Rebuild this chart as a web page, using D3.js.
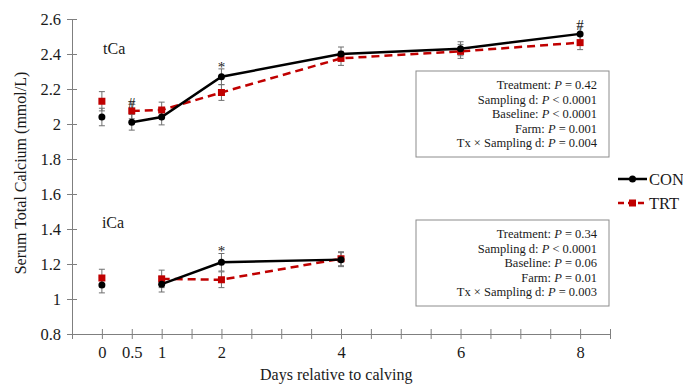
<!DOCTYPE html>
<html>
<head>
<meta charset="utf-8">
<script src="https://cdn.jsdelivr.net/npm/d3@7/dist/d3.min.js"></script>
<style>
  html, body { margin: 0; padding: 0; background: #fff; }
  svg { display: block; }
  svg text { font-family: "Liberation Serif", "Times New Roman", serif; }
</style>
</head>
<body>
<div id="chart"></div>
<script>
// data (day 0 = baseline, not joined to the lines)
const tcaDays = [0, 0.5, 1, 2, 4, 6, 8];
const tcaCon = [2.04, 2.01, 2.04, 2.27, 2.40, 2.43, 2.515];
const tcaConSe = [0.05, 0.045, 0.045, 0.045, 0.04, 0.04, 0.04];
const tcaTrt = [2.13, 2.075, 2.08, 2.18, 2.375, 2.415, 2.465];
const tcaTrtSe = [0.055, 0.045, 0.045, 0.045, 0.04, 0.04, 0.04];

const icaDays = [0, 1, 2, 4];
const icaCon = [1.08, 1.085, 1.21, 1.225];
const icaConSe = [0.045, 0.045, 0.05, 0.04];
const icaTrt = [1.12, 1.115, 1.11, 1.23];
const icaTrtSe = [0.05, 0.05, 0.045, 0.04];

const xTickLabels = [0, 0.5, 1, 2, 4, 6, 8];
const yTicks = [0.8, 1, 1.2, 1.4, 1.6, 1.8, 2, 2.2, 2.4, 2.6];

const marks = [
  { day: 0.5, value: 2.12, sym: "#" },
  { day: 2, value: 2.33, sym: "*" },
  { day: 8, value: 2.57, sym: "#" },
  { day: 2, value: 1.275, sym: "*" }
];

const tcaStats = ["Treatment: |P| = 0.42", "Sampling d: |P| < 0.0001", "Baseline: |P| < 0.0001",
  "Farm: |P| = 0.001", "Tx × Sampling d: |P| = 0.004"];
const icaStats = ["Treatment: |P| = 0.34", "Sampling d: |P| < 0.0001", "Baseline: |P| = 0.06",
  "Farm: |P| = 0.01", "Tx × Sampling d: |P| = 0.003"];

const width = 683, height = 385;
const C = { con: "#000", trt: "#c00000", axis: "#7f7f7f", err: "#6f6f6f", text: "#1a1a1a" };
const FONT = "Liberation Serif, Times New Roman, serif";

const svg = d3.select("#chart").append("svg")
  .attr("width", width).attr("height", height)
  .attr("font-family", FONT);

const x = d3.scaleLinear().domain([-0.5, 8.5]).range([72, 610]);
const y = d3.scaleLinear().domain([0.8, 2.6]).range([334, 19]);

// axes
const xAxis = d3.axisBottom(x)
  .tickValues(d3.range(-0.5, 8.51, 0.5))
  .tickSizeInner(5).tickSizeOuter(0)
  .tickFormat(d => xTickLabels.includes(d) ? d3.format("~g")(d) : "");
const gx = svg.append("g").attr("transform", `translate(0,${y(0.8)})`).call(xAxis);
gx.selectAll(".tick line").attr("y1", -5);
gx.selectAll(".tick text").attr("dy", "1.15em").attr("y", 5);

const yAxis = d3.axisLeft(y).tickValues(yTicks).tickSizeInner(5).tickSizeOuter(0)
  .tickFormat(d3.format("~g"));
const gy = svg.append("g").attr("transform", `translate(${x(-0.5)},0)`).call(yAxis);
gy.selectAll(".tick line").attr("x1", -5).attr("x2", 5);
gy.selectAll(".tick text").attr("x", -11);

[gx, gy].forEach(g => {
  g.attr("font-family", FONT).attr("font-size", 16.5);
  g.select(".domain").attr("stroke", C.axis);
  g.selectAll(".tick line").attr("stroke", C.axis);
  g.selectAll(".tick text").attr("fill", C.text);
});

svg.append("text")
  .attr("transform", `translate(20,${y(1.72)}) rotate(-90)`)
  .attr("text-anchor", "middle").attr("dy", "0.35em")
  .attr("fill", C.text).attr("font-size", 16)
  .text("Serum Total Calcium (mmol/L)");

svg.append("text")
  .attr("x", x(3.92)).attr("y", 374).attr("dy", "0.35em")
  .attr("text-anchor", "middle").attr("fill", C.text).attr("font-size", 16)
  .text("Days relative to calving");

// panel labels
svg.append("text").attr("x", x(0.02)).attr("y", y(2.43)).attr("dy", "0.35em")
  .attr("fill", C.text).attr("font-size", 16).text("tCa");
svg.append("text").attr("x", x(0.0)).attr("y", y(1.44)).attr("dy", "0.35em")
  .attr("fill", C.text).attr("font-size", 16).text("iCa");

// series
const series = [
  { days: tcaDays, v: tcaCon, se: tcaConSe, grp: "con" },
  { days: tcaDays, v: tcaTrt, se: tcaTrtSe, grp: "trt" },
  { days: icaDays, v: icaCon, se: icaConSe, grp: "con" },
  { days: icaDays, v: icaTrt, se: icaTrtSe, grp: "trt" }
].map(s => ({ grp: s.grp, pts: s.days.map((d, i) => ({ day: d, v: s.v[i], se: s.se[i] })) }));

const line = d3.line().x(d => x(d.day)).y(d => y(d.v));

// error bars (drawn under lines)
const eb = svg.append("g").attr("stroke", C.err).attr("stroke-width", 1);
series.forEach(s => {
  s.pts.forEach(p => {
    const g = eb.append("g");
    g.append("line").attr("x1", x(p.day)).attr("x2", x(p.day))
      .attr("y1", y(p.v - p.se)).attr("y2", y(p.v + p.se));
    [p.v - p.se, p.v + p.se].forEach(e => g.append("line")
      .attr("x1", x(p.day) - 3).attr("x2", x(p.day) + 3)
      .attr("y1", y(e)).attr("y2", y(e)));
  });
});

// TRT first, CON on top
["trt", "con"].forEach(grp => {
  series.filter(s => s.grp === grp).forEach(s => {
    svg.append("path")
      .datum(s.pts.filter(p => p.day > 0))
      .attr("d", line)
      .attr("fill", "none")
      .attr("stroke", grp === "con" ? C.con : C.trt)
      .attr("stroke-width", 2.5)
      .attr("stroke-dasharray", grp === "con" ? null : "8,5");
    const pg = svg.append("g");
    if (grp === "con") {
      pg.selectAll("circle").data(s.pts).join("circle")
        .attr("cx", d => x(d.day)).attr("cy", d => y(d.v)).attr("r", 3.5)
        .attr("fill", C.con);
    } else {
      pg.selectAll("rect").data(s.pts).join("rect")
        .attr("x", d => x(d.day) - 3.5).attr("y", d => y(d.v) - 3.5)
        .attr("width", 7).attr("height", 7).attr("fill", C.trt);
    }
  });
});

// significance marks
svg.append("g").selectAll("text").data(marks).join("text")
  .attr("x", d => x(d.day)).attr("y", d => y(d.value)).attr("dy", "0.35em")
  .attr("text-anchor", "middle").attr("fill", C.text).attr("font-size", 15)
  .text(d => d.sym);

// stats boxes
function statBox(lines, top) {
  const bx = 416, bw = 193, bh = 86;
  const g = svg.append("g");
  g.append("rect").attr("x", bx).attr("y", top).attr("width", bw).attr("height", bh)
    .attr("fill", "#fff").attr("stroke", "#8c8c8c").attr("stroke-width", 1);
  lines.forEach((l, i) => {
    const t = g.append("text").attr("x", 597).attr("y", top + 14 + i * 14.5)
      .attr("dy", "0.35em").attr("text-anchor", "end").attr("fill", C.text)
      .attr("font-size", 12.5);
    l.split("|").forEach((part, j) => {
      t.append("tspan").attr("font-style", j === 1 ? "italic" : null).text(part);
    });
  });
}
statBox(tcaStats, 71);
statBox(icaStats, 220);

// legend
const legend = [{ k: "CON", grp: "con", y: 179 }, { k: "TRT", grp: "trt", y: 203 }];
legend.forEach(l => {
  const g = svg.append("g");
  g.append("line").attr("x1", 618).attr("x2", 647).attr("y1", l.y).attr("y2", l.y)
    .attr("stroke", l.grp === "con" ? C.con : C.trt).attr("stroke-width", 2.5)
    .attr("stroke-dasharray", l.grp === "con" ? null : "6,4");
  if (l.grp === "con") {
    g.append("circle").attr("cx", 632.5).attr("cy", l.y).attr("r", 3.5).attr("fill", C.con);
  } else {
    g.append("rect").attr("x", 629).attr("y", l.y - 3.5).attr("width", 7).attr("height", 7).attr("fill", C.trt);
  }
  g.append("text").attr("x", 649).attr("y", l.y).attr("dy", "0.35em")
    .attr("fill", C.text).attr("font-size", 16.5).text(l.k);
});
</script>
</body>
</html>
